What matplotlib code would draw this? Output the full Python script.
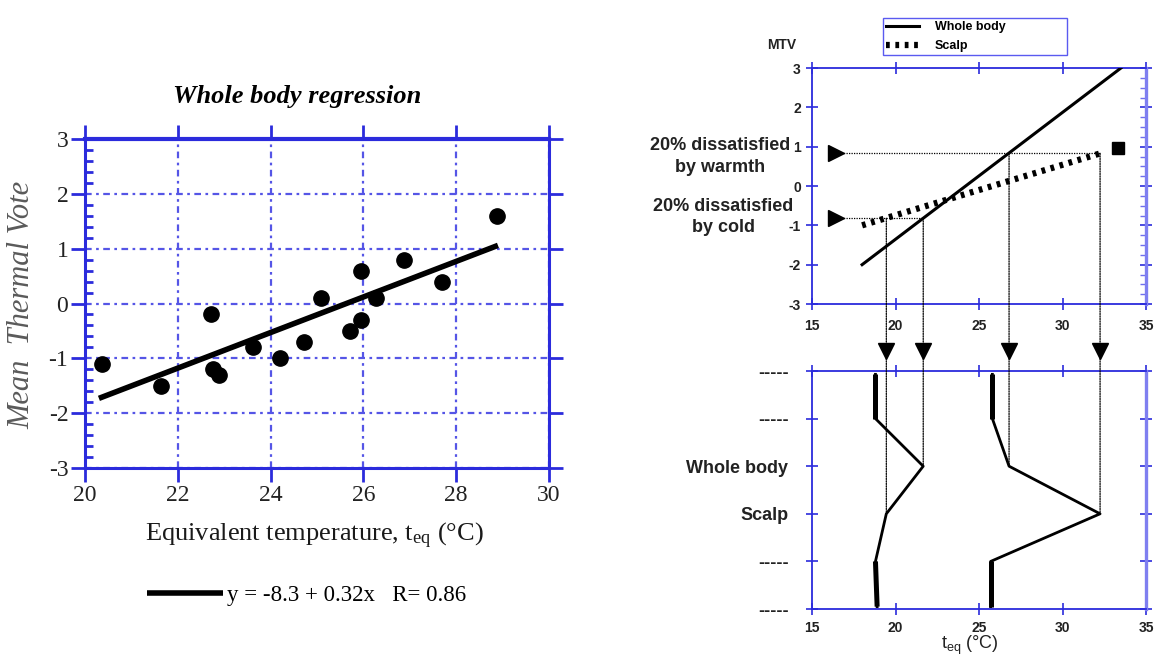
import matplotlib
matplotlib.use('Agg')
import matplotlib.pyplot as plt
import matplotlib.transforms as mtransforms
from matplotlib.patches import ConnectionPatch
from matplotlib.ticker import MultipleLocator, FixedLocator
import numpy as np

# ---------------- data ----------------
# Left panel: whole body regression
teq_obs = [20.36, 21.64, 22.72, 22.75, 22.88, 23.63, 24.2, 24.71, 25.08,
           25.72, 25.94, 25.95, 26.28, 26.88, 27.69, 28.88]
mtv_obs = [-1.1, -1.5, -0.2, -1.2, -1.3, -0.8, -1.0, -0.7, 0.1,
           -0.5, 0.6, -0.3, 0.1, 0.8, 0.4, 1.6]
reg_x = [20.3, 28.9]
reg_y = [-1.73, 1.06]
reg_label = "y = -8.3 + 0.32x   R= 0.86"

# Right top panel: MTV vs teq
wb_x = [18.0, 33.5]
wb_y = [-2.0, 3.0]
sc_x = [18.0, 32.5]
sc_y = [-1.0, 0.86]
sc_end_x = [33.3]
sc_end_y = [0.97]
warm_level = 0.83
cold_level = -0.82
arrow_x = 16.45
cross_cold = [19.45, 21.66]   # scalp, whole body
cross_warm = [26.8, 32.25]    # whole body, scalp
cross_labels_cold = ['Scalp', 'Whole body']
cross_labels_warm = ['Whole body', 'Scalp']

# Right bottom panel: comfort range profile
levels = [5, 4, 3, 2, 1, 0]
level_labels = ['-----', '-----', 'Whole body', 'Scalp', '-----', '-----']
prof_y = [4.93, 4.0, 3.0, 2.0, 1.0, 0.05]
cold_prof = [18.8, 18.8, 21.66, 19.45, 18.8, 18.9]
warm_prof = [25.8, 25.8, 26.8, 32.25, 25.7, 25.7]

# ---------------- figure ----------------
plt.rcParams['axes.unicode_minus'] = False
plt.rcParams['mathtext.fontset'] = 'custom'
plt.rcParams['mathtext.rm'] = 'Liberation Serif'
plt.rcParams['mathtext.it'] = 'Liberation Serif:italic'
plt.rcParams['mathtext.sf'] = 'Liberation Sans'

W, H = 1164, 657
fig = plt.figure(figsize=(W / 100, H / 100), dpi=100)

def fx(px):
    return px / W

def fy(py):
    return 1 - py / H

serif = 'Liberation Serif'
sans = 'Liberation Sans'
blue = '#2b2bdc'
gblue = '#5555e6'

# ---------- left panel ----------
axL = fig.add_axes([fx(85), fy(468), fx(549) - fx(85), fy(139) - fy(468)])
axL.set_xlim(20, 30)
axL.set_ylim(-3, 3)
axL.xaxis.set_major_locator(MultipleLocator(2))
axL.yaxis.set_major_locator(MultipleLocator(1))
axL.yaxis.set_minor_locator(MultipleLocator(0.2))
axL.grid(True, which='major', color=gblue, linestyle=(0, (3, 2, 1.2, 2)), lw=1.6)
for s in axL.spines.values():
    s.set_color(blue)
    s.set_linewidth(2.2)
axL.spines['top'].set_linewidth(3)
axL.tick_params(which='major', direction='out', length=10, width=2, color=blue,
                top=True, right=True, labelsize=17, labelcolor='#222222', pad=2)
axL.tick_params(which='minor', direction='in', length=6, width=2, color=blue,
                left=True, right=False, top=False, bottom=False)
axL.xaxis.set_minor_locator(FixedLocator([]))
for lab in axL.get_xticklabels() + axL.get_yticklabels():
    lab.set_family(serif)
axL.set_axisbelow(True)

reg_line, = axL.plot(reg_x, reg_y, color='black', lw=4, solid_capstyle='butt', zorder=3)
axL.plot(teq_obs, mtv_obs, 'o', color='black', ms=11, zorder=4)

fig.text(fx(297), fy(97), 'Whole body regression', family=serif, style='italic',
         weight='bold', size=19, ha='center', va='center')
fig.text(fx(22), fy(305), 'Mean  Thermal Vote', family=serif, style='italic',
         size=22, color='#5a5a5a', rotation=90, ha='center', va='center')
fig.text(fx(314), fy(536), r'Equivalent temperature, t$_{\mathrm{eq}}$ (°C)',
         family=serif, size=19, ha='center', va='center', color='#1a1a1a')
axL.legend([reg_line], [reg_label], loc='center left',
           bbox_to_anchor=(fx(136), fy(595)), bbox_transform=fig.transFigure,
           frameon=False, handlelength=3.3, handletextpad=0.15, borderpad=0,
           prop={'family': serif, 'size': 16.5})

# ---------- right top panel ----------
x0r, x1r = 812, 1146
axT = fig.add_axes([fx(x0r), fy(304), fx(x1r) - fx(x0r), fy(68) - fy(304)])
axT.set_xlim(15, 35)
axT.set_ylim(-3, 3)
axT.xaxis.set_major_locator(MultipleLocator(5))
axT.yaxis.set_major_locator(MultipleLocator(1))
axT.yaxis.set_minor_locator(MultipleLocator(0.25))
for s in axT.spines.values():
    s.set_color(blue)
    s.set_linewidth(1.3)
axT.spines['right'].set_color('#7f7ff0')
axT.spines['right'].set_linewidth(2.4)
axT.tick_params(which='major', direction='inout', length=8, width=1.2, color=blue,
                top=True, right=True, labelsize=10, pad=4)
axT.tick_params(axis='x', pad=7)
axT.tick_params(which='minor', direction='in', length=4, width=1, color='#6f6fee',
                left=False, right=True)
for lab in axT.get_xticklabels() + axT.get_yticklabels():
    lab.set_family(sans)
    lab.set_weight('bold')
    lab.set_color('#222222')

wb_line, = axT.plot(wb_x, wb_y, color='black', lw=2.2, label='Whole body', zorder=3)
sc_line, = axT.plot(sc_x, sc_y, color='black', lw=4.5, linestyle=(0, (0.6, 0.9)),
                    label='Scalp', zorder=3)
axT.plot(sc_end_x, sc_end_y, 's', color='black', ms=8.5, zorder=3)

# horizontal dotted guide lines with arrows
axT.plot([arrow_x, max(cross_warm)], [warm_level, warm_level], color='black',
         lw=0.9, linestyle=(0, (1, 1)))
axT.plot([arrow_x, max(cross_cold)], [cold_level, cold_level], color='black',
         lw=0.9, linestyle=(0, (1, 1)))
axT.plot([arrow_x, arrow_x], [warm_level, cold_level], '>', color='black', ms=11,
         ls='none', clip_on=False, zorder=5)

axT.legend(handles=[wb_line, sc_line], loc='upper left',
           bbox_to_anchor=(fx(877), fy(57), fx(1073) - fx(877), fy(12) - fy(57)),
           bbox_transform=fig.transFigure, mode='expand', fancybox=False,
           edgecolor='#5a5af0', framealpha=1, borderpad=0.25, labelspacing=0.55,
           handlelength=2.6, handletextpad=1.3,
           prop={'family': sans, 'weight': 'bold', 'size': 9})
fig.text(fx(782), fy(45), 'MTV', family=sans, weight='bold', size=10,
         ha='center', va='center', color='#222222')

fig.text(fx(720), fy(146), '20% dissatisfied', family=sans, weight='bold', size=13,
         ha='center', va='center', color='#222222')
fig.text(fx(720), fy(168), 'by warmth', family=sans, weight='bold', size=13,
         ha='center', va='center', color='#222222')
fig.text(fx(723), fy(207), '20% dissatisfied', family=sans, weight='bold', size=13,
         ha='center', va='center', color='#222222')
fig.text(fx(723), fy(228), 'by cold', family=sans, weight='bold', size=13,
         ha='center', va='center', color='#222222')

# ---------- right bottom panel ----------
axB = fig.add_axes([fx(x0r), fy(609), fx(x1r) - fx(x0r), fy(371) - fy(609)])
axB.set_xlim(15, 35)
axB.set_ylim(0, 5)
axB.xaxis.set_major_locator(MultipleLocator(5))
axB.set_yticks(levels)
axB.set_yticklabels(level_labels)
for s in axB.spines.values():
    s.set_color(blue)
    s.set_linewidth(1.3)
axB.spines['right'].set_color('#7f7ff0')
axB.spines['right'].set_linewidth(2.4)
axB.tick_params(which='major', direction='inout', length=8, width=1.2, color=blue,
                top=True, right=True, pad=4)
axB.tick_params(axis='x', labelsize=10, pad=5)
axB.tick_params(axis='y', labelsize=13, pad=13)
for lab in axB.get_xticklabels() + axB.get_yticklabels():
    lab.set_family(sans)
    lab.set_weight('bold')
    lab.set_color('#222222')

for prof in (cold_prof, warm_prof):
    axB.plot(prof, prof_y, color='black', lw=2.0, zorder=3)
    axB.plot(prof[0:2], prof_y[0:2], color='black', lw=3.6, solid_capstyle='butt', zorder=3)
    axB.plot(prof[4:6], prof_y[4:6], color='black', lw=3.6, solid_capstyle='butt', zorder=3)

fig.text(fx(970), fy(645), r'$\mathsf{t_{eq}}$ (°C)', family=sans, size=13,
         ha='center', va='center', color='#222222')

# vertical dotted connectors from crossings to the profile panel
lvl_of = {'Whole body': 3, 'Scalp': 2}
for xs, lab_list, yl in ((cross_cold, cross_labels_cold, cold_level),
                         (cross_warm, cross_labels_warm, warm_level)):
    for xv, lab in zip(xs, lab_list):
        con = ConnectionPatch(xyA=(xv, yl), coordsA=axT.transData,
                              xyB=(xv, lvl_of[lab]), coordsB=axB.transData,
                              color='black', lw=0.9, linestyle=(0, (1, 1)))
        fig.add_artist(con)

# downward arrows between the panels
blend = mtransforms.blended_transform_factory(axT.transData, fig.transFigure)
all_cross = cross_cold + cross_warm
axT.plot(all_cross, [fy(351)] * len(all_cross), 'v', color='black', ms=11,
         transform=blend, clip_on=False, ls='none', zorder=5)

fig.savefig('out.png', dpi=100)
